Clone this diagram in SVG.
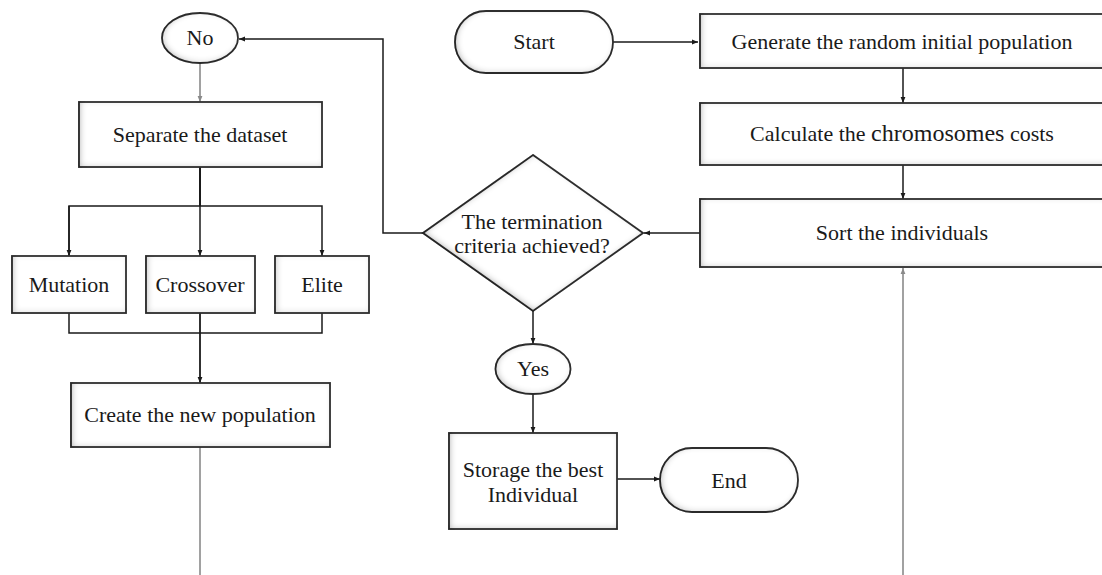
<svg xmlns="http://www.w3.org/2000/svg" width="1102" height="575" viewBox="0 0 1102 575">
<style>
  .box{fill:#fff;stroke:#333;stroke-width:1.8}
  .t{font-family:"Liberation Serif","Times New Roman",serif;font-size:22px;fill:#1a1a1a;text-anchor:middle}
  .c{fill:none;stroke:#1a1a1a;stroke-width:1.5}
  .g{fill:none;stroke:#8a8a8a;stroke-width:1.6}
</style>
<defs>
  <filter id="inset" x="-5%" y="-5%" width="110%" height="110%">
    <feFlood flood-color="#000" flood-opacity="0.6" result="f"/>
    <feComposite in="f" in2="SourceAlpha" operator="out" result="o"/>
    <feOffset dx="2" dy="-1" in="o" result="oo"/>
    <feGaussianBlur in="oo" stdDeviation="3" result="b"/>
    <feComposite in="b" in2="SourceAlpha" operator="in" result="s"/>
    <feMerge><feMergeNode in="SourceGraphic"/><feMergeNode in="s"/></feMerge>
  </filter>
  <marker id="a" viewBox="0 0 10 10" refX="10" refY="5" markerWidth="6" markerHeight="6" orient="auto" markerUnits="userSpaceOnUse">
    <path d="M0,1 L10,5 L0,9 z" fill="#1a1a1a"/>
  </marker>
  <marker id="ag" viewBox="0 0 10 10" refX="10" refY="5" markerWidth="6" markerHeight="6" orient="auto" markerUnits="userSpaceOnUse">
    <path d="M0,1 L10,5 L0,9 z" fill="#8a8a8a"/>
  </marker>
</defs>

<g id="connectors">
  <path class="c" d="M613,42 H698" marker-end="url(#a)"/>
  <path class="c" d="M903,68 V103" marker-end="url(#a)"/>
  <path class="c" d="M903,165 V199" marker-end="url(#a)"/>
  <path class="c" d="M700,233 H644" marker-end="url(#a)"/>
  <path class="g" d="M903,575 V268" marker-end="url(#ag)"/>
  <path class="c" d="M423,233 H383 V39 H239" marker-end="url(#a)"/>
  <path class="g" d="M200,63 V102" marker-end="url(#ag)"/>
  <path class="c" d="M200,167 V206" style="stroke-width:2"/>
  <path class="c" d="M69,256 V206 H322 V256" marker-end="url(#a)"/>
  <path class="c" d="M69,206 V256" marker-end="url(#a)"/>
  <path class="c" d="M200,206 V256" marker-end="url(#a)"/>
  <path class="c" d="M69,313 V333 H322 V313"/>
  <path class="c" d="M200,313 V383" marker-end="url(#a)" style="stroke-width:1.8"/>
  <path class="g" d="M200,447 V575"/>
  <path class="c" d="M533,311 V344" marker-end="url(#a)"/>
  <path class="c" d="M533,394 V433" marker-end="url(#a)"/>
  <path class="c" d="M617,479 H660" marker-end="url(#a)"/>
</g>

<g id="start">
  <rect class="box" x="455" y="11" width="158" height="62" rx="31" filter="url(#inset)"/>
  <text class="t" x="534" y="49">Start</text>
</g>
<g id="generate">
  <rect class="box" x="700" y="14" width="410" height="54" filter="url(#inset)"/>
  <text class="t" x="902" y="49">Generate the random initial population</text>
</g>
<g id="calculate">
  <rect class="box" x="700" y="103" width="410" height="62" filter="url(#inset)"/>
  <text class="t" x="902" y="141">Calculate the <tspan style="font-size:24px">chromosomes</tspan> costs</text>
</g>
<g id="sort">
  <rect class="box" x="700" y="199" width="410" height="68" filter="url(#inset)"/>
  <text class="t" x="902" y="240">Sort the individuals</text>
</g>
<g id="decision">
  <polygon class="box" points="533,155 643,233 533,311 423,233" filter="url(#inset)"/>
  <text class="t" x="532" y="229">The termination</text>
  <text class="t" x="532" y="253">criteria achieved?</text>
</g>
<g id="yes">
  <ellipse class="box" cx="533" cy="369" rx="37.5" ry="25" filter="url(#inset)"/>
  <text class="t" x="533" y="376">Yes</text>
</g>
<g id="storage">
  <rect class="box" x="449" y="433" width="168" height="96" filter="url(#inset)"/>
  <text class="t" x="533" y="477">Storage the best</text>
  <text class="t" x="533" y="502">Individual</text>
</g>
<g id="end">
  <rect class="box" x="660" y="448" width="138" height="64" rx="32" filter="url(#inset)"/>
  <text class="t" x="729" y="488">End</text>
</g>
<g id="no">
  <ellipse class="box" cx="200" cy="38" rx="38" ry="25" filter="url(#inset)"/>
  <text class="t" x="200" y="45">No</text>
</g>
<g id="separate">
  <rect class="box" x="79" y="102" width="243" height="65" filter="url(#inset)"/>
  <text class="t" x="200" y="142">Separate the dataset</text>
</g>
<g id="mutation">
  <rect class="box" x="12" y="256" width="114" height="57" filter="url(#inset)"/>
  <text class="t" x="69" y="292">Mutation</text>
</g>
<g id="crossover">
  <rect class="box" x="146" y="256" width="109" height="57" filter="url(#inset)"/>
  <text class="t" x="200" y="292">Crossover</text>
</g>
<g id="elite">
  <rect class="box" x="275" y="256" width="94" height="57" filter="url(#inset)"/>
  <text class="t" x="322" y="292">Elite</text>
</g>
<g id="create">
  <rect class="box" x="71" y="383" width="259" height="64" filter="url(#inset)"/>
  <text class="t" x="200" y="422">Create the new population</text>
</g>
</svg>
